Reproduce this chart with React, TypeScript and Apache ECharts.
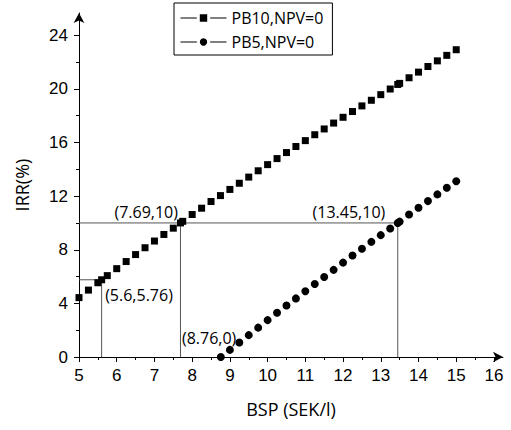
import React, { useEffect, useRef } from "react";
import * as echarts from "echarts";

// ---- data ----
const pb10X = [5, 5.25, 5.5, 5.6, 5.75, 6, 6.25, 6.5, 6.75, 7, 7.25, 7.5, 7.69, 7.75, 8, 8.25, 8.5, 8.75, 9, 9.25, 9.5, 9.75, 10, 10.25, 10.5, 10.75, 11, 11.25, 11.5, 11.75, 12, 12.25, 12.5, 12.75, 13, 13.25, 13.45, 13.5, 13.75, 14, 14.25, 14.5, 14.75, 15];
const pb10Y = [4.43, 4.99, 5.54, 5.76, 6.07, 6.59, 7.12, 7.64, 8.15, 8.65, 9.14, 9.61, 10, 10.12, 10.63, 11.1, 11.6, 12.04, 12.5, 12.96, 13.42, 13.89, 14.35, 14.8, 15.25, 15.7, 16.14, 16.58, 17.01, 17.45, 17.88, 18.31, 18.73, 19.15, 19.57, 19.99, 20.33, 20.41, 20.83, 21.25, 21.67, 22.09, 22.5, 22.92];

const pb5X = [8.76, 9, 9.25, 9.5, 9.75, 10, 10.25, 10.5, 10.75, 11, 11.25, 11.5, 11.75, 12, 12.25, 12.5, 12.75, 13, 13.25, 13.45, 13.5, 13.75, 14, 14.25, 14.5, 14.75, 15];
const pb5Y = [0, 0.53, 1.08, 1.63, 2.19, 2.75, 3.3, 3.84, 4.37, 4.91, 5.44, 5.97, 6.5, 7.04, 7.57, 8.08, 8.59, 9.09, 9.58, 10, 10.1, 10.63, 11.13, 11.63, 12.13, 12.62, 13.11];

const seriesNames = ["PB10,NPV=0", "PB5,NPV=0"];

// annotated points: [x, y]
const notePoints = [
  [5.6, 5.76],
  [7.69, 10],
  [13.45, 10],
  [8.76, 0],
];

// guide segments: [[x1, y1], [x2, y2]]
const guideSegments = [
  [[5, 5.76], [5.6, 5.76]],
  [[5.6, 0], [5.6, 5.76]],
  [[5, 10], [13.45, 10]],
  [[7.69, 0], [7.69, 10]],
  [[13.45, 0], [13.45, 10]],
];

const xTicks = [5, 6, 7, 8, 9, 10, 11, 12, 13, 14, 15, 16];
const xMinorTicks = [5.5, 6.5, 7.5, 8.5, 9.5, 10.5, 11.5, 12.5, 13.5, 14.5, 15.5];
const yTicks = [0, 4, 8, 12, 16, 20, 24];
const yMinorTicks = [2, 6, 10, 14, 18, 22];

const xMin = 5;
const xMax = 16.24;
const yMin = 0;
const yMax = 25.66;

// label placement styles for the annotation points (same order as notePoints)
const noteStyles = [
  { position: [4, 16], align: "left" },
  { position: [-2, -10], align: "right" },
  { position: [-12, -10], align: "right" },
  { position: [16, -19], align: "right" },
];

export default function App() {
  const ref = useRef<HTMLDivElement>(null);

  useEffect(() => {
    if (!ref.current) return;
    const chart = echarts.init(ref.current, null, { renderer: "svg" });

    const tickFont = { fontFamily: "Liberation Sans", fontSize: 17, color: "#000" };
    const black = "#000";

    const mainSeries = [
      {
        name: seriesNames[0],
        type: "line",
        data: pb10X.map((x, i) => [x, pb10Y[i]]),
        symbol: "rect",
        symbolSize: 7,
        showSymbol: true,
        itemStyle: { color: black },
        lineStyle: { opacity: 0, width: 1, color: black },
        z: 5,
      },
      {
        name: seriesNames[1],
        type: "line",
        data: pb5X.map((x, i) => [x, pb5Y[i]]),
        symbol: "circle",
        symbolSize: 8,
        showSymbol: true,
        itemStyle: { color: black },
        lineStyle: { opacity: 0, width: 1, color: black },
        z: 5,
      },
    ];

    const guides = guideSegments.map((seg, i) => ({
      name: "guide" + i,
      type: "line",
      data: seg,
      symbol: "none",
      lineStyle: { color: "#555", width: 1 },
      silent: true,
      z: 3,
    }));

    const notes = {
      name: "notes",
      type: "scatter",
      symbolSize: 1,
      itemStyle: { color: "#fff", opacity: 1 },
      silent: true,
      z: 2,
      data: notePoints.map((p, i) => ({
        value: p,
        label: {
          show: true,
          position: noteStyles[i].position,
          align: noteStyles[i].align,
          verticalAlign: "middle",
          formatter: () => `(${p[0]},${p[1]})`,
          fontFamily: "Open Sans",
          fontSize: 16,
          color: "#000",
          textBorderWidth: 0,
          opacity: 1,
        },
      })),
    };

    chart.setOption({
      animation: false,
      backgroundColor: "#fff",
      grid: { left: 79, right: 8, top: 13, bottom: 73, containLabel: false },
      legend: {
        data: seriesNames,
        orient: "vertical",
        left: 174,
        top: 3,
        borderColor: "#000",
        borderWidth: 1,
        padding: [7, 9, 5, 6],
        itemWidth: 46,
        itemHeight: 13,
        itemGap: 8,
        textStyle: { fontFamily: "Open Sans", fontSize: 16, color: "#000" },
        lineStyle: { width: 1, color: "#000", opacity: 1 },
        itemStyle: { borderColor: "#fff", borderWidth: 3 },
      },
      xAxis: [
        {
          type: "value",
          min: xMin,
          max: xMax,
          name: "BSP (SEK/l)",
          nameLocation: "middle",
          nameGap: 43,
          nameTextStyle: { fontFamily: "Open Sans", fontSize: 18, color: "#000" },
          axisLine: {
            show: true,
            onZero: false,
            symbol: ["none", "arrow"],
            symbolSize: [8, 10],
            lineStyle: { color: black, width: 1 },
          },
          axisTick: { show: true, customValues: xTicks, length: 5, lineStyle: { color: black } },
          axisLabel: { customValues: xTicks, margin: 10, ...tickFont },
          splitLine: { show: false },
        },
        {
          type: "value",
          min: xMin,
          max: xMax,
          position: "bottom",
          axisLine: { show: false, onZero: false },
          axisTick: { show: true, customValues: xMinorTicks, length: 3, lineStyle: { color: black } },
          axisLabel: { show: false },
          splitLine: { show: false },
        },
      ],
      yAxis: [
        {
          type: "value",
          min: yMin,
          max: yMax,
          name: "IRR(%)",
          nameLocation: "middle",
          nameGap: 48,
          nameRotate: 90,
          nameTextStyle: { fontFamily: "Open Sans", fontSize: 18, color: "#000" },
          axisLine: {
            show: true,
            onZero: false,
            symbol: ["none", "arrow"],
            symbolSize: [8, 10],
            lineStyle: { color: black, width: 1 },
          },
          axisTick: { show: true, customValues: yTicks, length: 5, lineStyle: { color: black } },
          axisLabel: { customValues: yTicks, margin: 11, ...tickFont },
          splitLine: { show: false },
        },
        {
          type: "value",
          min: yMin,
          max: yMax,
          position: "left",
          axisLine: { show: false, onZero: false },
          axisTick: { show: true, customValues: yMinorTicks, length: 3, lineStyle: { color: black } },
          axisLabel: { show: false },
          splitLine: { show: false },
        },
      ],
      series: [...guides, ...mainSeries, notes],
    });

    return () => chart.dispose();
  }, []);

  return (
    <div
      ref={ref}
      style={{ position: "absolute", left: 0, top: 0, width: 511, height: 430 }}
    />
  );
}
